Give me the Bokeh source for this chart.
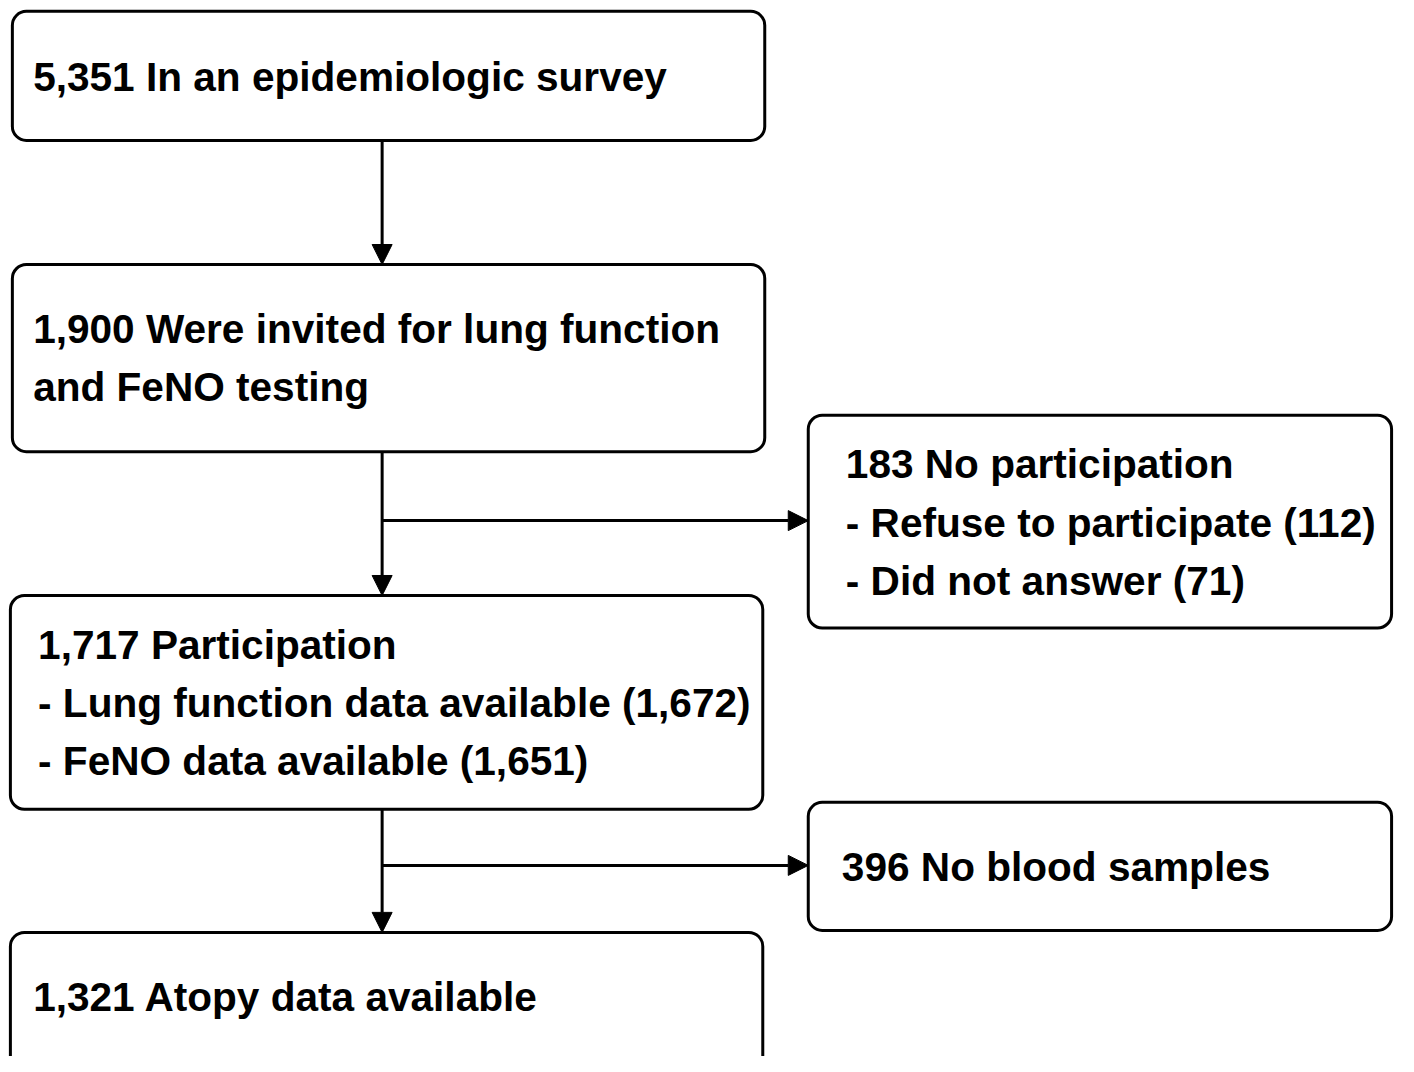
from bokeh.plotting import figure
from bokeh.models import ColumnDataSource, Arrow, NormalHead, Range1d
from bokeh.core.properties import value
from bokeh.embed import file_html
from bokeh.resources import INLINE

# ---- content ----
box_ids = ["survey", "invited", "noparticip", "particip", "noblood", "atopy"]
box_lines = [
    ["5,351 In an epidemiologic survey"],
    ["1,900 Were invited for lung function", "and FeNO testing"],
    ["183 No participation", "- Refuse to participate (112)", "- Did not answer (71)"],
    ["1,717 Participation", "- Lung function data available (1,672)", "- FeNO data available (1,651)"],
    ["396 No blood samples"],
    ["1,321 Atopy data available"],
]

# ---- layout (reference pixel coordinates) ----
box_left = [12, 12, 817, 10, 817, 10]
box_right = [773, 773, 1407, 771, 1407, 771]
box_top = [11, 268, 421, 604, 814, 946]
box_bottom = [142, 458, 637, 821, 944, 1095]
text_x = [33, 33, 855, 38, 851, 33]
text_y0 = [78, 333, 471, 654, 880, 1012]
line_gap = 59

arrow_x0 = [386, 386, 386, 386, 386]
arrow_y0 = [142, 458, 528, 821, 878]
arrow_x1 = [386, 386, 817, 386, 817]
arrow_y1 = [268, 604, 528, 946, 878]

W, H = 1398, 1056
p = figure(width=W, height=H, output_backend="svg", toolbar_location=None,
           x_range=Range1d(0, 1414), y_range=Range1d(1072, 0),
           min_border=0, outline_line_color=None)
p.axis.visible = False
p.grid.visible = False
p.background_fill_color = "white"
p.border_fill_color = "white"

p.quad(left=box_left, right=box_right, top=box_top, bottom=box_bottom,
       fill_color="white", line_color="black", line_width=3, border_radius=14)

tx, ty, tt = [], [], []
for i, lines in enumerate(box_lines):
    for j, s in enumerate(lines):
        tx.append(text_x[i])
        ty.append(text_y0[i] + j * line_gap)
        tt.append(s)
p.text(x=tx, y=ty, text=tt, text_font=value("Liberation Sans"), text_font_style="bold",
       text_font_size="40.6px", text_baseline="middle", text_align="left", text_color="black")

src = ColumnDataSource(dict(x0=arrow_x0, y0=arrow_y0, x1=arrow_x1, y1=arrow_y1))
p.add_layout(Arrow(x_start="x0", y_start="y0", x_end="x1", y_end="y1", source=src,
                   line_color="black", line_width=3,
                   end=NormalHead(size=20, fill_color="black", line_color="black", line_width=1)))

open("out.html", "w").write(file_html(p, INLINE))
